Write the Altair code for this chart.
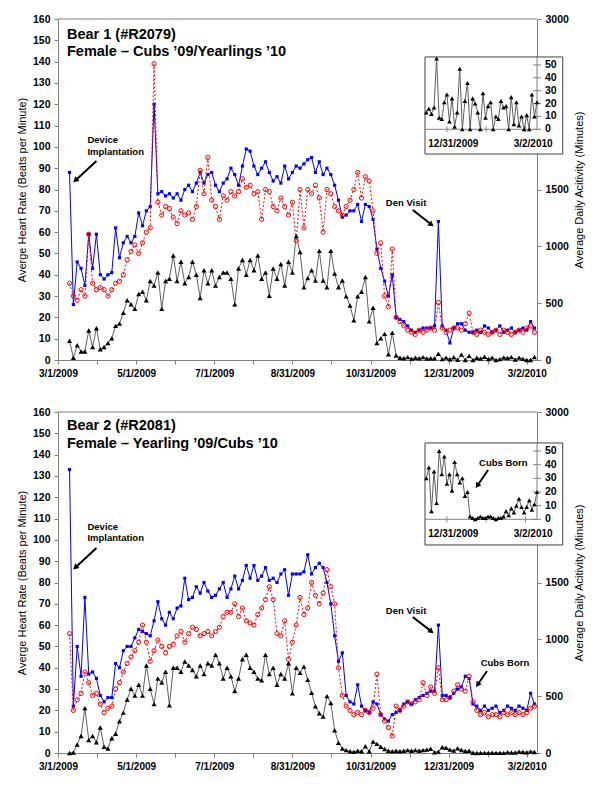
import pandas as pd
import altair as alt

# ------------------------------------------------------------------ data
DATES = pd.date_range("2009-03-10", periods=122, freq="3D").strftime("%Y-%m-%d").tolist()
INSET_DATES = pd.date_range("2009-12-15", periods=44, freq="2D").strftime("%Y-%m-%d").tolist()

B1_HR_BLUE = [88, 26, 46, 43, 35, 59, 43, 59, 40, 38,
              40, 41, 62, 48, 55, 58, 55, 58, 69, 63,
              70, 72, 120, 78, 79, 77, 78, 76, 78, 75,
              80, 82, 79, 83, 88, 83, 87, 88, 82, 79,
              83, 85, 90, 87, 82, 91, 99, 98, 91, 87,
              90, 93, 88, 84, 86, 83, 91, 85, 88, 91,
              90, 92, 94, 95, 88, 93, 87, 90, 87, 82,
              75, 67, 68, 70, 70, 73, 65, 73, 72, 66,
              52, 43, 37, 30, 40, 20, 19, 18, 16, 14,
              13, 14, 15, 15, 15, 16, 65, 16, 14, 8,
              15, 17, 17, 14, 13, 13, 14, 13, 16, 15,
              13, 14, 16, 13, 14, 15, 13, 14, 15, 14,
              18, 15]
B1_HR_RED = [36, 30, 28, 33, 30, 59, 36, 33, 34, 33,
             30, 33, 36, 37, 40, 47, 51, 54, 50, 55,
             60, 62, 139, 74, 68, 72, 71, 67, 64, 70,
             68, 69, 66, 72, 89, 78, 95, 75, 72, 66,
             77, 75, 79, 77, 79, 85, 81, 82, 78, 79,
             66, 80, 79, 72, 70, 76, 72, 68, 74, 56,
             80, 62, 80, 78, 82, 76, 60, 80, 78, 72,
             70, 68, 72, 75, 80, 88, 76, 86, 84, 70,
             50, 55, 30, 25, 52, 20, 18, 16, 14, 13,
             12, 14, 13, 14, 15, 14, 27, 15, 13, 14,
             15, 15, 14, 17, 22, 13, 12, 14, 13, 12,
             13, 14, 12, 14, 13, 12, 13, 14, 13, 15,
             16, 13]
B1_ACT = [170, 20, 130, 75, 75, 260, 115, 280, 95, 115,
          150, 190, 300, 320, 415, 525, 490, 450, 580, 600,
          525, 695, 655, 770, 450, 695, 715, 920, 695, 865,
          675, 730, 865, 750, 545, 790, 675, 790, 655, 730,
          770, 770, 715, 490, 805, 880, 750, 880, 790, 920,
          715, 770, 565, 805, 715, 845, 655, 865, 770, 1090,
          950, 640, 720, 790, 700, 960, 700, 640, 960, 760,
          640, 700, 560, 480, 350, 560, 600, 730, 340, 460,
          150, 190, 230, 50, 240, 40, 20, 15, 25, 10,
          20, 15, 25, 13, 16, 14, 55, 8, 21, 6,
          24, 2, 47, 0, 36, 0, 20, 13, 28, 9,
          21, 0, 8, 22, 18, 25, 4, 21, 10, 0,
          0, 27]
B1_INSET = [13, 16, 12, 17, 55, 9, 8, 21, 27, 6,
            24, 2, 13, 47, 0, 22, 36, 0, 24, 20,
            13, 0, 28, 9, 18, 21, 0, 10, 8, 22,
            17, 18, 0, 25, 4, 21, 3, 10, 0, 11,
            0, 27, 10, 21]

B2_HR_BLUE = [133, 22, 50, 36, 73, 37, 38, 35, 27, 24,
              26, 26, 42, 40, 48, 50, 50, 54, 58, 57,
              56, 55, 62, 71, 63, 60, 66, 63, 68, 69,
              82, 72, 73, 78, 75, 80, 76, 73, 74, 77,
              80, 73, 77, 83, 77, 81, 88, 82, 88, 81,
              83, 87, 81, 82, 80, 84, 86, 74, 84, 84,
              84, 85, 93, 84, 87, 89, 87, 80, 70, 55,
              43, 47, 27, 24, 23, 32, 22, 20, 19, 24,
              23, 18, 16, 15, 18, 19, 20, 23, 24, 23,
              25, 26, 27, 28, 29, 29, 60, 27, 27, 26,
              28, 30, 31, 36, 35, 23, 22, 20, 22, 20,
              21, 22, 19, 20, 22, 21, 20, 22, 21, 20,
              28, 23]
B2_HR_RED = [56, 20, 25, 28, 38, 33, 27, 28, 23, 19,
             21, 22, 30, 33, 38, 42, 45, 48, 52, 60,
             52, 43, 48, 53, 50, 47, 50, 51, 55, 57,
             52, 56, 59, 58, 55, 56, 57, 55, 57, 59,
             64, 66, 66, 70, 64, 68, 62, 61, 60, 65,
             68, 72, 78, 72, 56, 55, 62, 44, 52, 60,
             73, 65, 68, 80, 74, 70, 75, 86, 78, 70,
             40, 27, 22, 20, 18, 19, 18, 20, 19, 21,
             37, 18, 15, 12, 8, 22, 20, 22, 24, 23,
             24, 25, 33, 27, 31, 28, 40, 25, 25, 26,
             29, 32, 30, 29, 36, 24, 20, 18, 19, 17,
             18, 18, 17, 19, 18, 19, 18, 19, 18, 19,
             21, 22]
B2_ACT = [0, 5, 75, 150, 395, 115, 150, 95, 225, 55,
          40, 130, 170, 280, 355, 470, 565, 505, 600, 505,
          770, 565, 430, 655, 620, 715, 420, 750, 750, 715,
          805, 770, 730, 675, 770, 695, 790, 770, 865, 790,
          655, 750, 675, 545, 655, 825, 865, 750, 715, 655,
          640, 865, 695, 750, 600, 695, 655, 790, 525, 750,
          705, 760, 645, 530, 410, 350, 320, 500, 440, 200,
          90, 40, 25, 15, 10, 20, 15, 60, 15, 100,
          80, 55, 35, 20, 15, 20, 15, 20, 25, 20,
          25, 20, 25, 30, 38, 6, 12, 50, 46, 30,
          21, 42, 27, 17, 20, 2, 0, 1, 1, 1,
          2, 1, 1, 1, 6, 5, 5, 12, 9, 7,
          14, 9]
B2_INSET = [30, 38, 6, 35, 12, 50, 33, 46, 26, 33,
            21, 42, 33, 27, 30, 17, 20, 2, 1, 0,
            1, 2, 1, 1, 2, 2, 1, 0, 1, 1,
            2, 6, 3, 8, 5, 10, 15, 9, 5, 9,
            14, 7, 11, 20]

HR_TICKS = list(range(0, 161, 10))
ACT_TICKS = [0, 500, 1000, 1500, 3000]
INSET_TICKS = [0, 10, 20, 30, 40, 50]

# ------------------------------------------------------------------ layout / style
W, H = 479, 734
R_TOP = [341, 0]
R_BOT = [734, 393]
INSET_XRANGE = [367, 479]
R_INSET_TOP = [110.3, 39.5]
R_INSET_BOT = [500.3, 425.2]
FONT = "Liberation Sans"
GRAY = "#808080"


def utc(y, m, d, h=0):
    return alt.DateTime(year=y, month=m, date=d, hours=h, utc=True)


XDOM = [utc(2009, 3, 1), utc(2010, 3, 10)]
XTICKS = [utc(2009, 3, 1), utc(2009, 3, 31, 12), utc(2009, 5, 1), utc(2009, 5, 31, 12),
          utc(2009, 7, 1), utc(2009, 7, 31, 12), utc(2009, 8, 31), utc(2009, 9, 30, 12),
          utc(2009, 10, 31), utc(2009, 11, 30, 12), utc(2009, 12, 31), utc(2010, 1, 30, 12),
          utc(2010, 3, 2)]
INSET_XDOM = [utc(2009, 12, 14), utc(2010, 3, 11)]


def x_axis(offset):
    return alt.Axis(orient="bottom", offset=offset, values=XTICKS,
                    labelExpr="utchours(datum.value) == 12 ? '' : utcFormat(datum.value, '%-m/%-d/%Y')",
                    labelFont=FONT, labelFontSize=10, labelFontWeight="bold", labelColor="black",
                    labelFlush=False, labelOverlap=False, labelPadding=4,
                    tickSize=4, tickColor=GRAY, domainColor=GRAY, grid=False, title=None)


LEFT_AXIS = alt.Axis(orient="left", values=HR_TICKS, title="Averge Heart Rate (Beats per Minute)",
                     titleFont=FONT, titleFontSize=11, titleFontWeight="normal", titleColor="black",
                     titlePadding=5, labelFont=FONT, labelFontSize=10.5, labelFontWeight="bold",
                     labelColor="black", labelPadding=4, labelOverlap=False,
                     tickSize=4, tickColor=GRAY, domainColor=GRAY, grid=False)

RIGHT_AXIS = alt.Axis(orient="right", values=ACT_TICKS, format="d", title="Average Daily Acitivity (Minutes)",
                      titleFont=FONT, titleFontSize=11, titleFontWeight="normal", titleColor="black",
                      titleAngle=270, titleBaseline="top", titlePadding=5,
                      labelFont=FONT, labelFontSize=10.5, labelFontWeight="bold",
                      labelColor="black", labelPadding=4, labelOverlap=False,
                      tickSize=4, tickColor=GRAY, domainColor=GRAY, grid=False)


def xm(field, axis=None):
    return alt.X(f"{field}:T", scale=alt.Scale(type="utc", domain=XDOM, range=[0, W]), axis=axis)


def xi(field):
    return alt.X(f"{field}:T", scale=alt.Scale(type="utc", domain=INSET_XDOM, range=INSET_XRANGE), axis=None)


def yl(field, rng, axis=None):
    return alt.Y(f"{field}:Q", scale=alt.Scale(domain=[0, 160], range=rng, zero=False, nice=False), axis=axis)


def yr(field, rng, axis=None):
    return alt.Y(f"{field}:Q", scale=alt.Scale(domain=[0, 3000], range=rng, zero=False, nice=False), axis=axis)


def yi(field, rng):
    return alt.Y(f"{field}:Q", scale=alt.Scale(domain=[0, 55], range=rng, zero=False, nice=False), axis=None)


def panel_main(blue, red, titles, notes, arrows, rng, x_offset):
    XA = x_axis(x_offset)
    df = pd.DataFrame({"date": DATES, "hr_blue": blue, "hr_red": red})
    base = alt.Chart(df)
    blue_line = base.mark_line(color="#0000FF", strokeWidth=1).encode(
        x=xm("date", XA), y=yl("hr_blue", rng, LEFT_AXIS))
    frame = alt.Chart(pd.DataFrame({"x": ["2009-03-01"], "x2": ["2010-03-10"], "y": [160]})).mark_rule(
        color=GRAY, strokeWidth=1).encode(x=xm("x", XA), x2="x2:T", y=yl("y", rng, LEFT_AXIS))
    blue_pts = base.mark_square(color="#0000FF", size=10, opacity=1).encode(
        x=xm("date", XA), y=yl("hr_blue", rng, LEFT_AXIS))
    red_line = base.mark_line(color="#FF0000", strokeWidth=1, strokeDash=[2, 2]).encode(
        x=xm("date", XA), y=yl("hr_red", rng, LEFT_AXIS))
    red_pts = base.mark_point(shape="circle", color="#FF0000", filled=False, size=18,
                              strokeWidth=1, opacity=1).encode(x=xm("date", XA), y=yl("hr_red", rng, LEFT_AXIS))
    title_txt = alt.Chart(titles).mark_text(align="left", baseline="alphabetic", font=FONT,
                                            fontSize=14.5, fontWeight="bold", color="black").encode(
        x=xm("x", XA), y=yl("y", rng, LEFT_AXIS), text="t:N")
    note_txt = alt.Chart(notes).mark_text(align="left", baseline="middle", font=FONT,
                                          fontSize=9.5, fontWeight="bold", color="black").encode(
        x=xm("x", XA), y=yl("y", rng, LEFT_AXIS), text="t:N")
    arrow_lines = alt.Chart(arrows).mark_rule(color="black", strokeWidth=2).encode(
        x=xm("x", XA), x2="x2:T", y=yl("y", rng, LEFT_AXIS), y2="y2:Q")
    arrow_heads = alt.Chart(arrows).mark_point(shape="triangle", filled=True, color="black",
                                               size=40, opacity=1, strokeWidth=0).encode(
        x=xm("x2", XA), y=yl("y2", rng, LEFT_AXIS), angle=alt.Angle("ang:Q", scale=None))
    return alt.layer(blue_line, frame, blue_pts, red_line, red_pts, title_txt, note_txt,
                     arrow_lines, arrow_heads)


def panel_right(act, rng):
    df = pd.DataFrame({"date": DATES, "act": act})
    base = alt.Chart(df)
    line = base.mark_line(color="#606060", strokeWidth=1).encode(
        x=xm("date"), y=yr("act", rng, RIGHT_AXIS))
    pts = base.mark_point(shape="triangle-up", filled=True, color="black", size=26, opacity=1).encode(
        x=xm("date"), y=yr("act", rng, RIGHT_AXIS))
    return alt.layer(line, pts)


def panel_inset(vals, rng, box_y, note=None, arrow=None):
    df = pd.DataFrame({"date": INSET_DATES, "act": vals})
    box = alt.Chart(pd.DataFrame({"x": ["2009-12-14"], "x2": ["2010-03-31"],
                                  "y": [box_y[0]], "y2": [box_y[1]]})).mark_rect(
        fill="white", stroke="#404040", strokeWidth=1).encode(x=xi("x"), x2="x2:T", y=yi("y", rng), y2="y2:Q")
    axis_line = alt.Chart(pd.DataFrame({"x": ["2009-12-14"], "x2": ["2010-03-11"], "y": [0]})).mark_rule(
        color=GRAY, strokeWidth=1).encode(x=xi("x"), x2="x2:T", y=yi("y", rng))
    yaxis_line = alt.Chart(pd.DataFrame({"x": ["2010-03-11"], "y": [0], "y2": [box_y[1]]})).mark_rule(
        color=GRAY, strokeWidth=1).encode(x=xi("x"), y=yi("y", rng), y2="y2:Q")
    xt = alt.Chart(pd.DataFrame({"x": ["2009-12-31", "2010-01-30T12:00:00Z", "2010-03-02"],
                                 "y": [0, 0, 0]})).mark_tick(
        orient="vertical", size=6, thickness=1, color=GRAY, opacity=1).encode(x=xi("x"), y=yi("y", rng))
    yt = alt.Chart(pd.DataFrame({"x": ["2010-03-11"] * len(INSET_TICKS), "y": INSET_TICKS})).mark_tick(
        orient="horizontal", size=8, thickness=1, color=GRAY, opacity=1).encode(x=xi("x"), y=yi("y", rng))
    xl = alt.Chart(pd.DataFrame({"x": ["2010-01-05", "2010-03-08"], "y": [0, 0],
                                 "t": ["12/31/2009", "3/2/2010"]})).mark_text(
        font=FONT, fontSize=10, fontWeight="bold", color="black", baseline="middle", dy=15).encode(
        x=xi("x"), y=yi("y", rng), text="t:N")
    yl_ = alt.Chart(pd.DataFrame({"x": ["2010-03-11"] * len(INSET_TICKS), "y": INSET_TICKS,
                                  "t": [str(v) for v in INSET_TICKS]})).mark_text(
        font=FONT, fontSize=10.5, fontWeight="bold", color="black", align="left", baseline="middle",
        dx=8).encode(x=xi("x"), y=yi("y", rng), text="t:N")
    line = alt.Chart(df).mark_line(color="#606060", strokeWidth=1).encode(x=xi("date"), y=yi("act", rng))
    pts = alt.Chart(df).mark_point(shape="triangle-up", filled=True, color="black", size=22,
                                   opacity=1).encode(x=xi("date"), y=yi("act", rng))
    layers = [box, axis_line, yaxis_line, xt, yt, xl, yl_, line, pts]
    if note is not None:
        layers.append(alt.Chart(note).mark_text(align="left", baseline="middle", font=FONT, fontSize=9.5,
                                                fontWeight="bold", color="black").encode(
            x=xi("x"), y=yi("y", rng), text="t:N"))
        layers.append(alt.Chart(arrow).mark_rule(color="black", strokeWidth=2).encode(
            x=xi("x"), x2="x2:T", y=yi("y", rng), y2="y2:Q"))
        layers.append(alt.Chart(arrow).mark_point(shape="triangle", filled=True, color="black", size=40,
                                                  opacity=1, strokeWidth=0).encode(
            x=xi("x2"), y=yi("y2", rng), angle=alt.Angle("ang:Q", scale=None)))
    return alt.layer(*layers)


# ------------------------------------------------------------------ annotations
top_titles = pd.DataFrame({"x": ["2009-03-08", "2009-03-08"], "y": [150.6, 142.7],
                           "t": ["Bear 1 (#R2079)", "Female \u2013 Cubs \u201909/Yearlings \u201910"]})
bot_titles = pd.DataFrame({"x": ["2009-03-08", "2009-03-08"], "y": [151.6, 143.1],
                           "t": ["Bear 2 (#R2081)", "Female \u2013 Yearling \u201909/Cubs \u201910"]})
top_notes = pd.DataFrame({"x": ["2009-03-24", "2009-03-24", "2009-11-12"], "y": [103.2, 97.6, 73.7],
                          "t": ["Device", "Implantation", "Den Visit"]})
bot_notes = pd.DataFrame({"x": ["2009-03-24", "2009-03-24", "2009-11-12", "2010-01-25"],
                          "y": [106, 101, 66.6, 42.2],
                          "t": ["Device", "Implantation", "Den Visit", "Cubs Born"]})
top_arrows = pd.DataFrame({"x": ["2009-03-31", "2009-12-03"], "x2": ["2009-03-15", "2009-12-17"],
                           "y": [93.4, 70.4], "y2": [84.5, 63.8], "ang": [228, 128]})
bot_arrows = pd.DataFrame({"x": ["2009-03-31", "2009-12-03", "2010-01-30"],
                           "x2": ["2009-03-15", "2009-12-17", "2010-01-23"],
                           "y": [96.2, 63.8, 38.5], "y2": [87.3, 57.3, 32.4], "ang": [228, 128, 215]})
inset_note = pd.DataFrame({"x": ["2010-01-25"], "y": [41.2], "t": ["Cubs Born"]})
inset_arrow = pd.DataFrame({"x": ["2010-02-01"], "x2": ["2010-01-24"], "y": [36.1], "y2": [25.1],
                            "ang": [214]})

top_main = panel_main(B1_HR_BLUE, B1_HR_RED, top_titles, top_notes, top_arrows, R_TOP, -393)
top_right = panel_right(B1_ACT, R_TOP)
top_inset = panel_inset(B1_INSET, R_INSET_TOP, (-19.2, 56.2))
bot_main = panel_main(B2_HR_BLUE, B2_HR_RED, bot_titles, bot_notes, bot_arrows, R_BOT, 0)
bot_right = panel_right(B2_ACT, R_BOT)
bot_inset = panel_inset(B2_INSET, R_INSET_BOT, (-18.8, 55.9), inset_note, inset_arrow)

chart = alt.layer(top_main, top_right, top_inset, bot_main, bot_right, bot_inset).resolve_scale(
    x="independent", y="independent"
).properties(
    width=W, height=H,
    autosize=alt.AutoSizeParams(type="none"),
    padding={"left": 50, "top": 11, "right": 55, "bottom": 27},
).configure_view(stroke=None)

chart.save("out.html", embed_options={"renderer": "svg", "actions": False})
